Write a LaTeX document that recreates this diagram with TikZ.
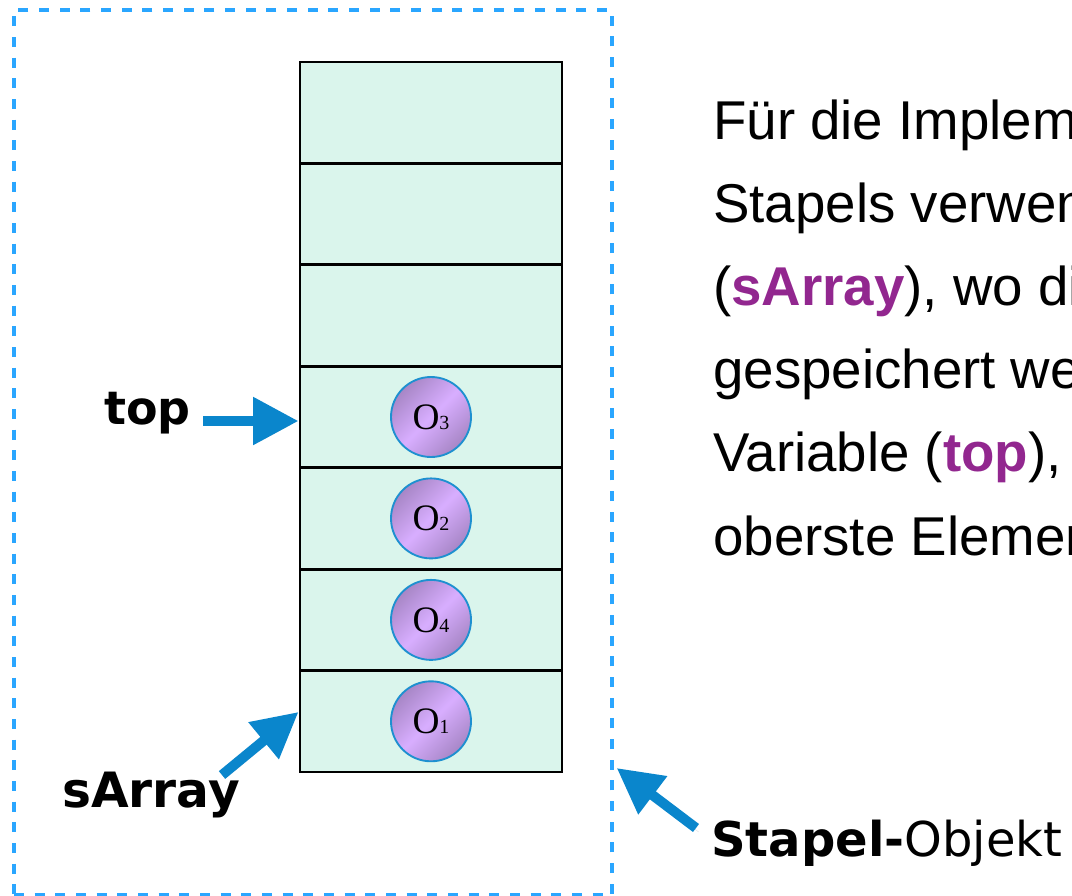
\documentclass[tikz,border=0pt]{standalone}
\usepackage{fontspec}
\setmainfont{Liberation Sans}
\newfontfamily\labelfont{DejaVu Sans}
\newfontfamily\ballfont{Liberation Serif}
\usetikzlibrary{arrows.meta,calc}

\definecolor{frameblue}{HTML}{2AA6FF}
\definecolor{arrowblue}{HTML}{0A86CC}
\definecolor{cellfill}{HTML}{DAF5EC}
\definecolor{kw}{HTML}{92278F}
\definecolor{balllight}{HTML}{D8AEFF}
\definecolor{balldark}{HTML}{A786C6}
\definecolor{ballrim}{HTML}{1E90D0}

\newcommand\kwd[1]{\textcolor{kw}{\textbf{#1}}}
\newcommand\ballname[1]{{\ballfont\fontsize{28}{28}\selectfont O}{\ballfont\fontsize{15}{15}\selectfont #1}}

\begin{document}
\begin{tikzpicture}[x=0.75pt,y=-0.75pt,
  frame/.style={draw=frameblue, line width=3pt, dash pattern=on 7.5pt off 8pt,
    minimum width=448.5pt, minimum height=663.75pt, inner sep=0pt},
  cell/.style={draw=black, line width=2.2pt, fill=cellfill,
    minimum width=196.5pt, minimum height=76.07pt, inner sep=0pt},
  ball/.style={circle, draw=ballrim, line width=1.4pt, minimum size=60pt, inner sep=0pt,
    top color=balldark, bottom color=balldark, middle color=balllight, shading angle=45},
  lbl/.style={anchor=base west, inner sep=0pt, font=\labelfont\bfseries\fontsize{34.5}{34.5}\selectfont},
  para/.style={anchor=base west, inner sep=0pt, font=\fontsize{41}{41}\selectfont},
  arr/.style={arrowblue, line width=7.5pt, -{Triangle[length=34pt,width=34pt]},
    preaction={draw=black, opacity=0.10, transform canvas={shift={(2pt,-3pt)}}}}
]
\path[use as bounding box] (0,0) rectangle (1072,896);
\clip (0,0) rectangle (1072,896);

% object frame
\node[frame] (frame) at (313,452.5) {};

% array cells, top to bottom
\foreach \i/\y in {1/112.7,2/214.1,3/315.6,4/417.0,5/518.4,6/619.9,7/721.3}
  \node[cell] (c\i) at (431,\y) {};

% stored elements
\node[ball] (o3) at (c4) {\ballname{3}};
\node[ball] (o2) at (c5) {\ballname{2}};
\node[ball] (o4) at (c6) {\ballname{4}};
\node[ball] (o1) at (c7) {\ballname{1}};

% labels
\node[lbl] (toplbl) at (104,424) {top};
\node[lbl, font=\labelfont\bfseries\fontsize{36.5}{36.5}\selectfont] (sarrlbl) at (62,807) {sArray};
\node[anchor=base west, inner sep=0pt, font=\labelfont\fontsize{36}{36}\selectfont]
  (stapel) at (711,856) {\textbf{Stapel-}Objekt};

% pointers
\coordinate (toptail) at (203,421);
\draw[arr] (toptail) -- (toptail -| c4.west);
\coordinate (sarrtail) at (222,775);
\draw[arr] (sarrtail) -- ([yshift=7pt]c7.west);
\coordinate (sttail) at (696,828);
\coordinate (sttip) at ([xshift=2pt]frame.east |- 0,768);
\draw[arr] (sttail) -- (sttip);

% explanation text
\node[para] (p1) at (713,139.0) {Für die Implementierung des};
\node[para] (p2) at (713,222.2) {Stapels verwenden wir ein Array};
\node[para] (p3) at (713,305.4) {(\kwd{sArray}), wo die Elemente};
\node[para] (p4) at (713,388.6) {gespeichert werden, und eine};
\node[para] (p5) at (713,471.8) {Variable (\kwd{top}), die auf das};
\node[para] (p6) at (713,555.0) {oberste Element zeigt.};
\end{tikzpicture}
\end{document}
